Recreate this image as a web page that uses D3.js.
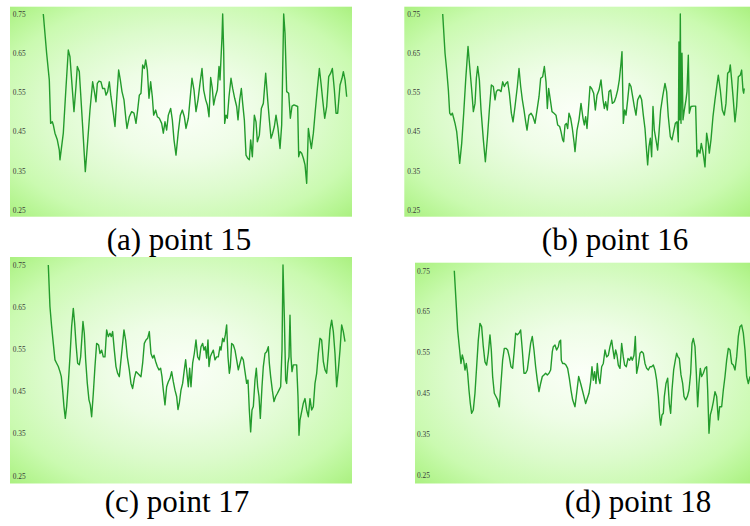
<!DOCTYPE html>
<html>
<head>
<meta charset="utf-8">
<script src="https://cdn.jsdelivr.net/npm/d3@7/dist/d3.min.js"></script>
<style>
  html, body { margin: 0; padding: 0; background: #ffffff; }
  svg { display: block; }
</style>
</head>
<body>
<svg id="chart" width="750" height="526"></svg>
<script>
// ---------------- DATA ----------------
const tickValues = [0.25, 0.35, 0.45, 0.55, 0.65, 0.75];
const captions = ["(a) point 15", "(b) point 16", "(c) point 17", "(d) point 18"];

const stepsA = [0,10,18,22,27,30,35,42,48,50,60,67,75,80,85,92,98,102,108,112,118,126,132,140,148,154,158,162,167,173,178,184,188,193,198,203,210,215,220,226,231,236,242,248,251,258,265,272,278,283,288,293,298,303,307,312,317,322,327,331,337,342,348,355,360,365,370,375,382,387,392,398,405,411,417,423,428,435,440,446,452,458,464,470,476,481,487,492,497,502,507,511,516,522,527,530,533,536,538,541,544,548,552,557,563,568,574,580,584,589,594,598,603,608,613,618,622,627,633,638,642,648,654,660,667,673,678,683,688,693,698,704,710,715,719,721,725,730,736,741,746,752,763,766,770,775,780,785,790,795,800,804,810,816,822,828,833,838,844,850,856,862,867,873,878,883,890,896,900,905,910];
const valuesA = [.75,.65,.582,.471,.475,.467,.446,.429,.403,.378,.446,.548,.658,.641,.582,.501,.565,.616,.603,.548,.463,.348,.412,.505,.577,.548,.526,.573,.579,.577,.56,.56,.543,.552,.577,.539,.497,.463,.531,.607,.582,.552,.531,.48,.458,.488,.501,.497,.471,.505,.543,.548,.62,.611,.633,.607,.535,.577,.539,.492,.505,.488,.484,.471,.446,.475,.454,.492,.509,.48,.429,.39,.45,.492,.505,.488,.458,.484,.531,.586,.556,.501,.531,.573,.611,.556,.531,.518,.488,.588,.56,.518,.539,.556,.616,.582,.637,.692,.75,.658,.471,.492,.484,.539,.586,.56,.535,.514,.48,.531,.56,.522,.48,.39,.382,.378,.429,.386,.492,.475,.424,.441,.509,.522,.599,.531,.48,.433,.446,.463,.492,.458,.407,.467,.654,.75,.701,.552,.548,.484,.515,.518,.514,.386,.399,.395,.382,.365,.318,.458,.429,.407,.446,.505,.56,.611,.573,.531,.484,.514,.59,.599,.611,.556,.497,.497,.569,.586,.603,.582,.539];

const stepsB = [0,7,12,17,21,25,29,33,37,42,47,51,57,63,69,76,81,87,92,97,101,105,110,115,122,128,134,140,146,152,157,161,165,170,175,180,185,190,195,200,206,211,217,224,229,234,239,244,249,253,259,265,271,277,283,289,294,300,305,310,314,318,323,328,334,340,345,351,355,360,363,367,371,375,379,384,389,394,397,403,409,415,421,425,429,433,437,442,447,453,458,463,469,475,481,485,489,494,499,504,509,515,520,525,530,535,538,542,546,550,555,560,565,570,575,580,585,592,597,602,607,612,615,619,623,627,631,635,640,645,649,654,660,667,672,677,683,688,693,698,703,707,709,711,713,715,718,721,725,730,733,737,740,745,752,759,763,767,772,776,780,783,787,792,797,800,805,811,817,823,827,833,839,845,850,855,860,863,867,872,877,882,887,893,897,901,903,905];
const valuesB = [.75,.65,.607,.556,.497,.492,.497,.484,.471,.45,.407,.369,.42,.497,.582,.667,.616,.556,.501,.522,.586,.616,.582,.505,.429,.373,.433,.505,.569,.565,.531,.552,.556,.556,.552,.577,.565,.573,.577,.548,.497,.475,.514,.565,.611,.565,.531,.505,.475,.454,.492,.497,.488,.471,.505,.539,.586,.59,.616,.577,.509,.56,.531,.501,.497,.492,.467,.463,.45,.429,.424,.467,.471,.458,.497,.484,.458,.424,.399,.454,.48,.522,.484,.467,.488,.458,.505,.565,.56,.548,.505,.543,.556,.582,.531,.509,.526,.505,.552,.556,.522,.526,.539,.556,.582,.624,.654,.471,.505,.492,.531,.573,.565,.539,.514,.492,.531,.543,.531,.492,.458,.399,.365,.412,.433,.386,.514,.454,.429,.403,.446,.505,.539,.573,.552,.488,.437,.429,.45,.471,.475,.424,.679,.48,.75,.471,.65,.48,.505,.531,.552,.645,.497,.514,.515,.515,.386,.403,.395,.42,.403,.386,.36,.446,.42,.395,.429,.488,.531,.569,.594,.556,.505,.492,.522,.599,.603,.62,.582,.531,.475,.514,.59,.594,.607,.556,.548,.56];

const stepsC = [0,5,10,15,20,25,30,35,39,43,47,51,55,60,65,70,75,79,83,88,93,97,101,104,108,112,117,122,126,130,135,140,145,151,155,160,165,170,175,180,185,189,193,198,203,208,213,218,222,227,232,237,243,248,253,258,263,268,273,278,283,288,293,298,303,308,313,317,322,327,332,337,341,345,350,355,360,365,370,375,380,385,389,393,398,403,408,412,416,420,424,428,433,438,443,448,453,458,463,467,471,475,479,482,486,490,495,500,505,510,515,518,523,527,531,535,539,543,546,550,555,560,565,570,575,580,585,590,595,599,603,607,611,615,620,624,628,632,636,641,645,650,655,660,663,667,672,677,682,687,692,697,701,704,708,712,715,719,722,725,728,731,735,740,745,749,752,755,760,765,770,775,780,785,790,795,800,805,810,815,820,825,830,835,840,845,850,855,860,865,870,875,880,885,890];
const valuesC = [.75,.651,.604,.564,.525,.517,.509,.497,.485,.453,.414,.386,.414,.469,.532,.604,.647,.612,.564,.517,.513,.532,.58,.616,.588,.525,.469,.43,.418,.39,.445,.509,.564,.56,.54,.548,.532,.532,.596,.58,.588,.58,.592,.548,.509,.493,.485,.525,.556,.596,.572,.532,.501,.469,.457,.481,.497,.493,.489,.485,.517,.564,.572,.576,.592,.54,.529,.536,.521,.509,.501,.505,.485,.453,.418,.461,.473,.481,.497,.473,.453,.438,.407,.422,.453,.469,.501,.525,.493,.461,.505,.461,.517,.54,.572,.532,.525,.556,.564,.548,.556,.529,.572,.509,.532,.54,.548,.525,.532,.532,.556,.548,.576,.568,.584,.608,.532,.493,.509,.564,.56,.548,.525,.501,.517,.532,.525,.497,.469,.477,.406,.354,.406,.414,.477,.505,.461,.438,.386,.461,.509,.54,.544,.556,.517,.485,.453,.426,.438,.445,.453,.461,.548,.75,.627,.477,.469,.517,.532,.631,.532,.497,.513,.513,.513,.438,.346,.382,.402,.422,.433,.406,.39,.433,.406,.414,.469,.493,.54,.576,.572,.521,.501,.493,.54,.596,.619,.592,.54,.461,.501,.548,.608,.592,.568];

const stepsD = [0,5,10,15,20,24,28,32,36,40,44,48,52,57,62,67,72,77,82,87,92,97,102,107,111,115,120,125,130,135,140,145,150,155,160,165,170,175,180,184,189,194,199,204,209,214,219,224,229,234,239,244,249,254,259,264,269,274,279,284,289,294,297,302,307,312,315,319,321,325,330,335,340,345,350,355,362,367,373,379,384,389,394,399,404,409,413,417,421,425,429,433,437,442,447,452,457,462,467,472,476,480,484,488,492,497,502,507,511,516,521,526,530,534,539,543,547,552,557,562,567,572,577,582,587,592,597,602,607,612,616,619,623,627,630,635,640,645,649,653,658,663,667,671,675,680,685,689,694,699,704,709,713,717,722,726,730,734,738,742,747,752,757,760,764,768,772,777,782,787,792,796,802,807,812,817,822,827,832,837,842,847,852,857,862,867,872,877,882,887];
const valuesD = [.75,.678,.605,.564,.523,.544,.531,.507,.523,.499,.458,.425,.401,.409,.45,.515,.58,.621,.613,.564,.527,.519,.548,.593,.556,.491,.45,.442,.434,.417,.474,.531,.56,.56,.556,.539,.515,.511,.556,.597,.593,.597,.605,.556,.499,.499,.507,.539,.572,.589,.556,.515,.482,.454,.474,.491,.495,.499,.495,.499,.507,.552,.564,.568,.556,.564,.576,.58,.531,.523,.523,.519,.511,.487,.458,.434,.417,.45,.491,.474,.458,.442,.425,.438,.45,.478,.515,.482,.503,.474,.523,.487,.474,.515,.523,.556,.539,.543,.564,.58,.556,.535,.556,.543,.519,.511,.572,.539,.519,.515,.535,.531,.539,.531,.543,.589,.499,.519,.548,.552,.548,.523,.511,.507,.515,.515,.519,.507,.482,.442,.393,.372,.397,.401,.442,.474,.487,.425,.401,.458,.507,.531,.548,.539,.535,.495,.474,.442,.434,.442,.458,.499,.572,.584,.564,.499,.417,.474,.511,.491,.499,.511,.515,.458,.352,.397,.409,.429,.454,.442,.385,.417,.417,.458,.491,.531,.56,.556,.523,.519,.507,.539,.589,.613,.617,.597,.556,.491,.474,.491];

// ---------------- LAYOUT ----------------
const panels = [
  { steps: stepsA, values: valuesA, caption: captions[0],
    box: {x: 10, y: 6.7, w: 342, h: 210}, xr: [43.3, 346.7], yr: [210, 14], labelX: 12.7, cap: [179, 250] },
  { steps: stepsB, values: valuesB, caption: captions[1],
    box: {x: 404.3, y: 6.7, w: 345.7, h: 210}, xr: [442.7, 744.3], yr: [210, 14], labelX: 407.3, cap: [615, 250] },
  { steps: stepsC, values: valuesC, caption: captions[2],
    box: {x: 10, y: 257, w: 342, h: 226.5}, xr: [48.3, 345], yr: [475.7, 265], labelX: 12.7, cap: [177, 512] },
  { steps: stepsD, values: valuesD, caption: captions[3],
    box: {x: 415, y: 262.7, w: 335, h: 220.8}, xr: [454.3, 750], yr: [475, 270.7], labelX: 417, cap: [638, 512] }
];

const svg = d3.select("#chart");
const defs = svg.append("defs");

const grad = defs.append("radialGradient")
  .attr("id", "bgGrad")
  .attr("cx", 0.5).attr("cy", 0.5).attr("r", 0.72);
[[0, "#fbfff8"], [0.3, "#eefde6"], [0.55, "#dcfbcc"], [0.76, "#cafab0"], [0.9, "#b6f592"], [1, "#a8ef7c"]]
  .forEach(([o, c]) => grad.append("stop").attr("offset", o).attr("stop-color", c));

panels.forEach((p, i) => {
  const g = svg.append("g");
  const clipId = "clip" + i;
  defs.append("clipPath").attr("id", clipId)
    .append("rect").attr("x", p.box.x).attr("y", p.box.y).attr("width", p.box.w).attr("height", p.box.h);

  g.append("rect")
    .attr("x", p.box.x).attr("y", p.box.y)
    .attr("width", p.box.w).attr("height", p.box.h)
    .attr("fill", "url(#bgGrad)");

  const x = d3.scaleLinear().domain([0, d3.max(p.steps)]).range(p.xr);
  const y = d3.scaleLinear().domain([0.25, 0.75]).range(p.yr);

  const axis = d3.axisRight(y).tickValues(tickValues).tickFormat(d3.format(".2f")).tickSize(0).tickPadding(0);
  const ax = g.append("g").attr("transform", `translate(${p.labelX},0)`).call(axis);
  ax.select(".domain").remove();
  ax.selectAll("text")
    .attr("font-family", "'Liberation Serif', 'Times New Roman', serif")
    .attr("font-size", 7.4)
    .attr("fill", "#3a3a3a");

  const data = d3.zip(p.steps, p.values);
  const line = d3.line().x(d => x(d[0])).y(d => y(d[1]));
  g.append("path")
    .datum(data)
    .attr("clip-path", `url(#${clipId})`)
    .attr("d", line)
    .attr("fill", "none")
    .attr("stroke", "#239b2c")
    .attr("stroke-width", 1.4)
    .attr("stroke-linejoin", "round");

  svg.append("text")
    .attr("x", p.cap[0]).attr("y", p.cap[1])
    .attr("text-anchor", "middle")
    .attr("font-family", "'Liberation Serif', 'Times New Roman', serif")
    .attr("font-size", 31)
    .attr("fill", "#000")
    .text(p.caption);
});
</script>
</body>
</html>
